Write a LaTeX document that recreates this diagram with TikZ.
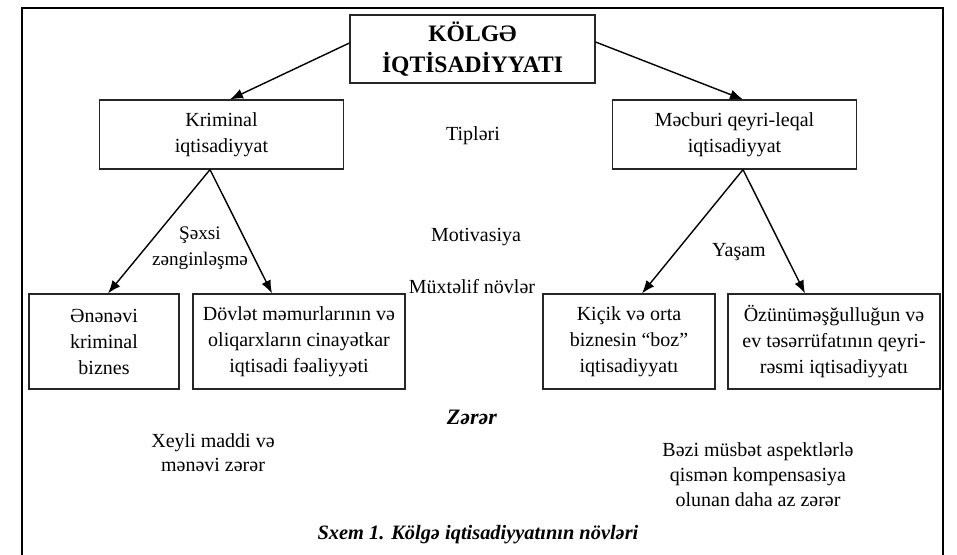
\documentclass[tikz,border=0pt]{standalone}
\usepackage{fontspec}
\setmainfont{Liberation Serif}
\usetikzlibrary{positioning,arrows.meta,calc}
\tikzset{
  rootBox/.style={
    rectangle,
    draw=black!85,
    line width=0.6pt,
    align=center,
    minimum width=122.5pt,
    minimum height=34pt,
    font=\fontsize{11.8}{15.5}\selectfont\bfseries
  },
  typeBox/.style={
    rectangle,
    draw=black!85,
    line width=0.6pt,
    align=center,
    minimum width=122pt,
    minimum height=34.5pt,
    font=\fontsize{10}{13}\selectfont
  },
  leafBox/.style={
    rectangle,
    draw=black!85,
    line width=0.6pt,
    align=center,
    minimum height=47.5pt,
    font=\fontsize{10}{13}\selectfont
  },
  arrowLine/.style={
    -{Latex[length=6.5pt,width=5pt]},
    line width=0.7pt
  },
  plainText/.style={
    align=center,
    font=\fontsize{10}{13}\selectfont
  },
  boldText/.style={
    font=\fontsize{11}{13}\selectfont\bfseries\itshape
  }
}

\begin{document}
\begin{tikzpicture}[x=0.5pt,y=-0.5pt]
    \useasboundingbox (0,0) rectangle (957,554);
    \draw[line width=1.2pt] (22,560) -- (22,8) -- (943,8) -- (943,560);

    \node[rootBox] (root) at (472.5,49) {KÖLGƏ\\İQTİSADİYYATI};
    \node[typeBox] (krim) at (221.5,134.5) {Kriminal\\iqtisadiyyat};
    \node[typeBox] (mecb) at (734.5,134.5) {Məcburi qeyri-leqal\\iqtisadiyyat};

    \node[leafBox, minimum width=75pt] (enenevi) at (104,341.5) {Ənənəvi\\kriminal\\biznes};
    \node[leafBox, minimum width=106pt] (dovlet) at (299,341.5) {Dövlət məmurlarının və\\oliqarxların cinayətkar\\iqtisadi fəaliyyəti};
    \node[leafBox, minimum width=86pt] (kicik) at (629,341.5) {Kiçik və orta\\biznesin “boz”\\iqtisadiyyatı};
    \node[leafBox, minimum width=106pt] (ozunu) at (834,341.5) {Özünüməşğulluğun və\\ev təsərrüfatının qeyri-\\rəsmi iqtisadiyyatı};

    \node[plainText] (tipleri) at (473,136) {Tipləri};
    \node[plainText] (motiv) at (476,237) {Motivasiya};
    \node[plainText] (muxtelif) at (472,287) {Müxtəlif növlər};
    \node[plainText, font=\fontsize{9.6}{13}\selectfont] (sexsi) at (200,248) {Şəxsi\\zənginləşmə};
    \node[plainText] (yasam) at (739,252) {Yaşam};
    \node[boldText] (zerer) at (472,417) {Zərər};
    \node[plainText, font=\fontsize{10}{12}\selectfont] (xeyli) at (213,453) {Xeyli maddi və\\mənəvi zərər};
    \node[plainText, font=\fontsize{10}{12.5}\selectfont] (bezi) at (758,475) {Bəzi müsbət aspektlərlə\\qismən kompensasiya\\olunan daha az zərər};
    \node[boldText, font=\fontsize{10.2}{13}\selectfont\bfseries\itshape] (caption) at (478,535) {Sxem 1. Kölgə iqtisadiyyatının növləri};

    \coordinate (krimFoot) at ([xshift=-5.75pt]krim.south);
    \coordinate (mecbFoot) at ([xshift=4.25pt]mecb.south);

    \draw[arrowLine] ([yshift=3pt]root.west) -- ([xshift=4.25pt]krim.north);
    \draw[arrowLine] ([yshift=3.5pt]root.east) -- ([xshift=4.25pt]mecb.north);
    \draw[arrowLine] (krimFoot) -- ([xshift=2pt]enenevi.north);
    \draw[arrowLine] (krimFoot) -- ([xshift=-13.5pt]dovlet.north);
    \draw[arrowLine] (mecbFoot) -- ([xshift=6.5pt]kicik.north);
    \draw[arrowLine] (mecbFoot) -- ([xshift=-14.5pt]ozunu.north);
\end{tikzpicture}
\end{document}
